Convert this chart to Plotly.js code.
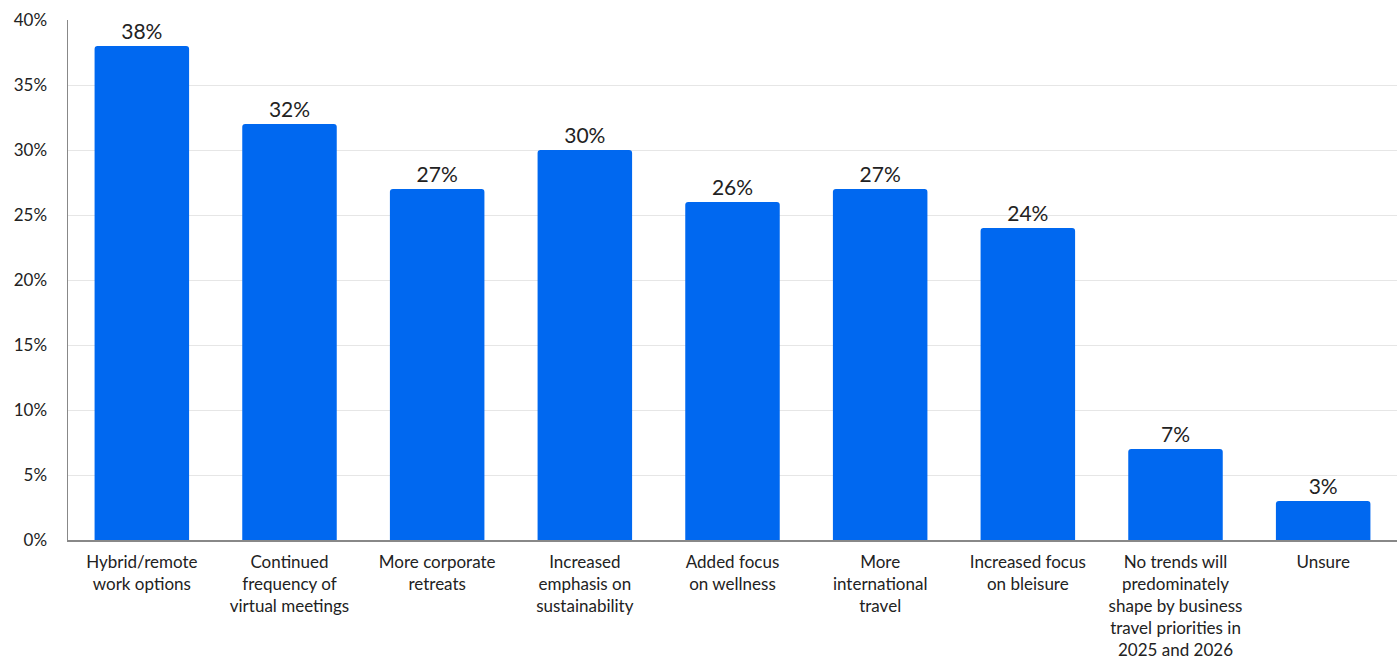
<!DOCTYPE html>
<html>
<head>
<meta charset="utf-8">
<script src="https://cdn.plot.ly/plotly-3.0.1.min.js"></script>
<style>html,body{margin:0;padding:0;background:#fff;}#chart{width:1397px;height:659px;}</style>
</head>
<body>
<div id="chart"></div>
<script>
const categories = [
  "Hybrid/remote<br>work options",
  "Continued<br>frequency of<br>virtual meetings",
  "More corporate<br>retreats",
  "Increased<br>emphasis on<br>sustainability",
  "Added focus<br>on wellness",
  "More<br>international<br>travel",
  "Increased focus<br>on bleisure",
  "No trends will<br>predominately<br>shape by business<br>travel priorities in<br>2025 and 2026",
  "Unsure"
];
const values = [38, 32, 27, 30, 26, 27, 24, 7, 3];
const yTicks = [0, 5, 10, 15, 20, 25, 30, 35, 40];

const trace = {
  type: 'bar',
  x: categories,
  y: values,
  text: values.map(v => v + '%'),
  textinfo: 'text',
  marker: {color: '#0068F0', cornerradius: 3},
  textposition: 'outside',
  cliponaxis: false,
  textfont: {family: 'Lato, sans-serif', size: 21, color: '#222'},
  hoverinfo: 'none'
};

const layout = {
  width: 1397, height: 659,
  margin: {l: 68, r: 0, t: 20, b: 119},
  paper_bgcolor: '#fff', plot_bgcolor: '#fff',
  bargap: 0.36,
  showlegend: false,
  font: {family: 'Lato, sans-serif', color: '#222'},
  xaxis: {
    showline: true, linecolor: '#888', linewidth: 1.5,
    tickfont: {size: 17, color: '#222'},
    ticks: '', ticklabelstandoff: 6
  },
  yaxis: {
    range: [0, 40],
    tickvals: yTicks,
    ticktext: yTicks.map(v => v + '%'),
    showline: true, linecolor: '#888', linewidth: 1.5,
    gridcolor: '#e6e6e6', gridwidth: 1,
    zeroline: false,
    tickfont: {size: 17, color: '#222'},
    ticks: '', ticklabelstandoff: 16
  }
};

Plotly.newPlot('chart', [trace], layout, {displayModeBar: false, staticPlot: true});
</script>
</body>
</html>
